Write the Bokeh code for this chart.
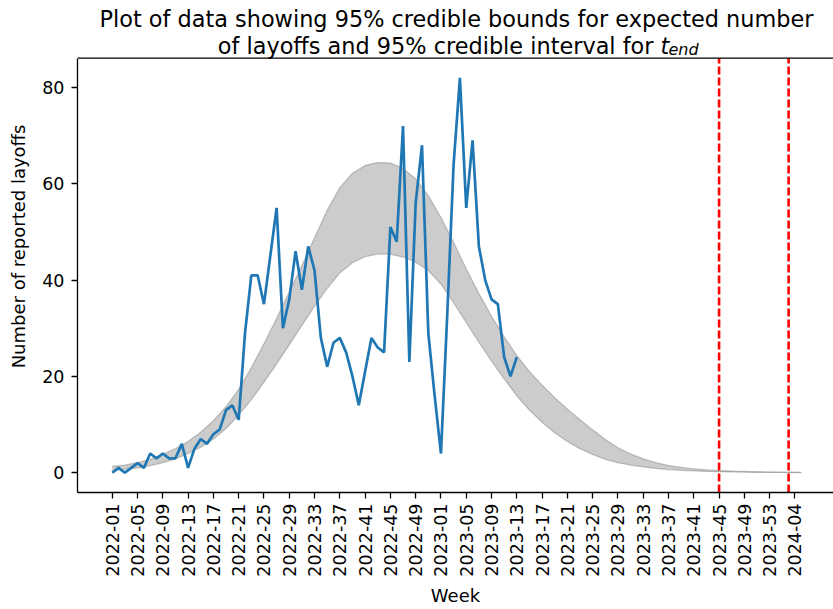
import math
from bokeh.plotting import figure
from bokeh.models import FixedTicker, Span, Label, Range1d
from bokeh.embed import file_html
from bokeh.resources import INLINE

# ---------------- data ----------------
weeks_per_year = [(2022, 52), (2023, 53), (2024, 5)]
weeks = [f"{y}-{w:02d}" for y, n in weeks_per_year for w in range(1, n + 1)]

tick_labels = ["2022-01", "2022-05", "2022-09", "2022-13", "2022-17", "2022-21",
               "2022-25", "2022-29", "2022-33", "2022-37", "2022-41", "2022-45",
               "2022-49", "2023-01", "2023-05", "2023-09", "2023-13", "2023-17",
               "2023-21", "2023-25", "2023-29", "2023-33", "2023-37", "2023-41",
               "2023-45", "2023-49", "2023-53", "2024-04"]

# reported layoffs per week, starting 2022-01
layoffs = [0, 1, 0, 1, 2, 1, 4, 3, 4, 3,
           3, 6, 1, 5, 7, 6, 8, 9, 13, 14,
           11, 29, 41, 41, 35, 45, 55, 30, 36, 46,
           38, 47, 42, 28, 22, 27, 28, 25, 20, 14,
           21, 28, 26, 25, 51, 48, 72, 23, 56, 68,
           29, 16, 4, 33, 64, 82, 55, 69, 47, 40,
           36, 35, 24, 20, 24]

# 95% credible bounds of expected layoffs (every second week, plus last week)
band_idx = list(range(0, 110, 2)) + [109]
band_upper = [1.3, 1.6, 2.1, 2.8, 3.8, 5.0, 6.5, 8.4, 10.8, 13.7,
              17.3, 21.8, 26.8, 32.0, 37.5, 43.0, 48.8, 54.5, 59.2, 62.2,
              63.8, 64.4, 64.3, 63.2, 61.0, 57.5, 53.0, 47.8, 42.3, 37.2,
              32.5, 28.2, 24.3, 21.0, 18.2, 15.6, 13.2, 11.0, 8.9, 6.9,
              5.2, 3.9, 2.9, 2.1, 1.5, 1.1, 0.8, 0.6, 0.45, 0.35,
              0.27, 0.2, 0.15, 0.11, 0.08, 0.07]
band_lower = [0.5, 0.7, 1.0, 1.5, 2.1, 2.9, 4.0, 5.3, 7.0, 9.2,
              12.0, 15.2, 18.8, 22.6, 26.6, 30.6, 34.6, 38.3, 41.5, 43.6,
              44.9, 45.4, 45.4, 44.8, 43.7, 42.0, 39.2, 35.3, 31.2, 27.1,
              23.2, 19.5, 16.0, 13.0, 10.5, 8.3, 6.5, 5.0, 3.8, 2.8,
              2.1, 1.6, 1.2, 0.9, 0.65, 0.5, 0.38, 0.28, 0.22, 0.17,
              0.13, 0.1, 0.08, 0.06, 0.05, 0.04]

# 95% credible interval for t_end
t_end_bounds = ["2023-45", "2024-03"]

y_ticks = [0, 20, 40, 60, 80]

# ---------------- figure ----------------
W, H = 833, 609
FRAME_LEFT = 77
BORDER_BOTTOM = 117
FRAME_W = W - FRAME_LEFT
FRAME_H = H - BORDER_BOTTOM
PX_PER_WEEK = 6.321
PX_PER_UNIT = 4.816
XS = -5.5
XE = XS + FRAME_W / PX_PER_WEEK
YS = -4.1          # bottom of axes
Y_TOP = 86.1       # top spine of axes
YE = YS + FRAME_H / PX_PER_UNIT   # frame also hosts the title area

FONT = "DejaVu Sans"

p = figure(width=W, height=H, output_backend="svg", toolbar_location=None,
           x_range=Range1d(XS, XE), y_range=Range1d(YS, YE),
           min_border_left=FRAME_LEFT, min_border_top=0,
           min_border_bottom=BORDER_BOTTOM, min_border_right=0)
p.background_fill_color = "white"
p.border_fill_color = "white"
p.outline_line_color = None
p.xgrid.visible = False
p.ygrid.visible = False

x_data = list(range(len(layoffs)))

p.varea(x=band_idx, y1=band_lower, y2=band_upper, fill_color="gray", fill_alpha=0.4)
p.line(band_idx, band_upper, line_color="gray", line_alpha=0.45, line_width=1.3)
p.line(band_idx, band_lower, line_color="gray", line_alpha=0.45, line_width=1.3)

p.line(x_data, layoffs, line_color="#1f77b4", line_width=2.7)

t_pos = [weeks.index(lab) for lab in t_end_bounds]
p.segment(x0=t_pos, y0=[YS] * len(t_pos), x1=t_pos, y1=[Y_TOP] * len(t_pos),
          line_color="red", line_width=2.6, line_dash="8 3")

# top spine
p.add_layout(Span(location=Y_TOP, dimension="width", line_color="black", line_width=1.3))

tick_pos = [weeks.index(t) for t in tick_labels]
p.xaxis.ticker = FixedTicker(ticks=tick_pos)
p.xaxis.major_label_overrides = {pos: lab for pos, lab in zip(tick_pos, tick_labels)}
p.xaxis.major_label_orientation = math.pi / 2
p.yaxis.ticker = FixedTicker(ticks=y_ticks)
p.yaxis.bounds = (YS, Y_TOP)

for ax in (p.xaxis[0], p.yaxis[0]):
    ax.axis_line_color = "black"
    ax.axis_line_width = 1.3
    ax.major_tick_line_color = "black"
    ax.major_tick_line_width = 1.3
    ax.major_tick_out = 6
    ax.major_tick_in = 0
    ax.minor_tick_out = 0
    ax.minor_tick_in = 0
    ax.major_label_text_font = FONT
    ax.major_label_text_font_size = "17.5px"
    ax.major_label_text_color = "black"
    ax.axis_label_text_font = FONT
    ax.axis_label_text_font_size = "18px"
    ax.axis_label_text_font_style = "normal"
    ax.axis_label_text_color = "black"

p.xaxis.axis_label = "Week"
p.xaxis.major_label_standoff = 5
p.xaxis.axis_label_standoff = 5
p.yaxis.axis_label = "Number of reported layoffs"
p.yaxis.major_label_standoff = 7
p.yaxis.axis_label_standoff = 10


def px_to_x(px):
    return XS + (px - FRAME_LEFT) / PX_PER_WEEK


def py_to_y(py):
    return YE - py / PX_PER_UNIT


TS = "22.4px"
p.add_layout(Label(x=px_to_x(456), y=py_to_y(18.3),
                   text="Plot of data showing 95% credible bounds for expected number",
                   text_align="center", text_baseline="alphabetic",
                   text_font=FONT, text_font_size=TS, text_color="black"))
p.add_layout(Label(x=px_to_x(653), y=py_to_y(45.7),
                   text="of layoffs and 95% credible interval for",
                   text_align="right", text_baseline="alphabetic",
                   text_font=FONT, text_font_size=TS, text_color="black"))
p.add_layout(Label(x=px_to_x(660), y=py_to_y(45.7), text="t",
                   text_align="left", text_baseline="alphabetic",
                   text_font=FONT, text_font_size=TS, text_font_style="italic",
                   text_color="black"))
p.add_layout(Label(x=px_to_x(668), y=py_to_y(49.3), text="end",
                   text_align="left", text_baseline="alphabetic",
                   text_font=FONT, text_font_size="16px", text_font_style="italic",
                   text_color="black"))

open("out.html", "w").write(file_html(p, INLINE))
